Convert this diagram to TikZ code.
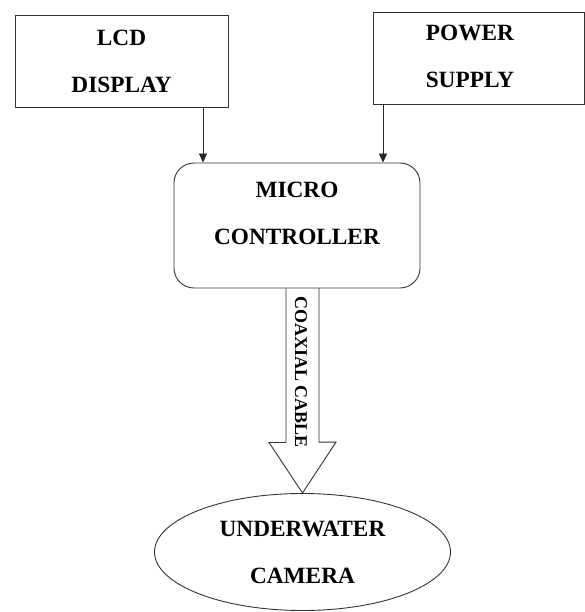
\documentclass[tikz,border=0pt]{standalone}
\usepackage{fontspec}
\setmainfont{Liberation Serif}
\usetikzlibrary{positioning,shapes.geometric,arrows.meta,calc}

\begin{document}
\begin{tikzpicture}[x=1pt, y=-1pt]
\tikzset{
    block/.style={rectangle, draw=black!80, line width=0.9pt, minimum width=213pt, minimum height=92pt, inner sep=0pt},
    cambox/.style={ellipse, draw=black!80, line width=0.9pt, minimum width=296pt, minimum height=117pt, inner sep=0pt},
    ctrl/.style={rectangle, rounded corners=20pt, draw=black!80, line width=0.9pt, minimum width=246pt, minimum height=125pt},
    label/.style={font=\fontsize{23.3}{47}\selectfont\bfseries, align=center, inner sep=0pt},
    arrow/.style={-{Triangle[length=9pt, width=8pt]}, line width=0.8pt, draw=black!85},
    hollow/.style={draw=black!80, line width=0.9pt, line join=miter}
}
\useasboundingbox (0,0) rectangle (585,612);
\node[block, label] (lcd) at (121.5,61) {LCD\\DISPLAY};
\node[block, minimum width=211pt] (power) at (478.5,58) {};
\node[label] (powertxt) at (470,56) {POWER\\SUPPLY};
\node[ctrl] (mcu) at (297,225.5) {};
\node[label] (mcutxt) at (297,213) {MICRO\\CONTROLLER};
\node[cambox, label] (cam) at (302.5,552) {UNDERWATER\\CAMERA};
\draw[arrow] ([xshift=81.5pt]lcd.south) -- ([xshift=81.5pt]lcd.south |- mcu.north);
\draw[arrow] ([xshift=-95.5pt]power.south) -- ([xshift=-95.5pt]power.south |- mcu.north);
% hollow coax arrow
\draw[hollow] ($(mcu.south -| cam.north)+(-16.5,0)$) -- ++(0,154) -- ++(-17,0)
    -- (cam.north) -- ++(33.5,-51) -- ++(-17,0) -- ++(0,-154);
\node[font=\fontsize{18}{20}\selectfont\bfseries, rotate=-90, inner sep=0pt] (coax) at (301,372) {COAXIAL CABLE};
\end{tikzpicture}
\end{document}
